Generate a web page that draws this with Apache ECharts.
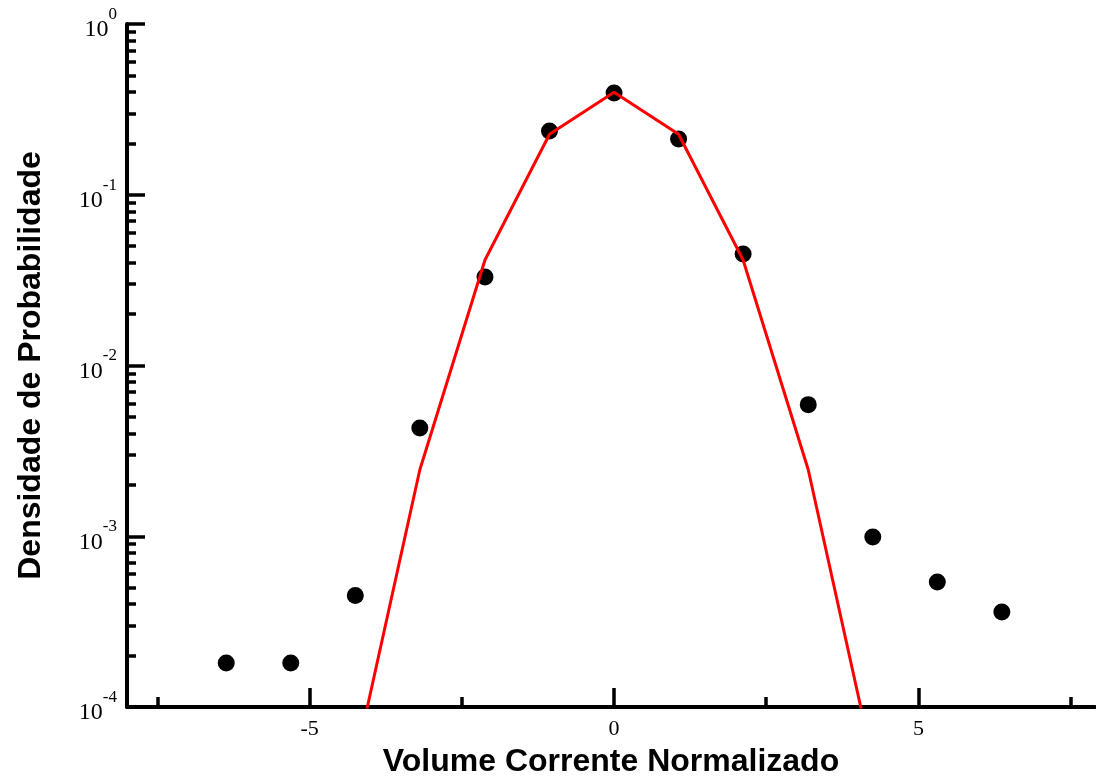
<!DOCTYPE html>
<html>
<head>
<meta charset="utf-8">
<script src="https://cdn.jsdelivr.net/npm/echarts@6/dist/echarts.min.js"></script>
<style>html,body{margin:0;background:#fff}#chart{width:1096px;height:780px}</style>
</head>
<body>
<div id="chart"></div>
<script>
// measured points (black dots)
var xValues = [-6.37, -5.31, -4.25, -3.19, -2.12, -1.06, 0, 1.06, 2.12, 3.19, 4.25, 5.31, 6.37];
var dataValues = [1.81e-4, 1.81e-4, 4.5e-4, 4.3e-3, 0.033, 0.236, 0.394, 0.212, 0.045, 5.9e-3, 9.9e-4, 5.4e-4, 3.6e-4];
// red reference curve
var curveX = [-4.25, -3.19, -2.12, -1.06, 0, 1.06, 2.12, 3.19, 4.25];
var curveValues = [4.8e-5, 2.45e-3, 0.0415, 0.226, 0.399, 0.226, 0.0415, 2.45e-3, 4.8e-5];
// axis ticks
var xMajorTicks = [-5, 0, 5];
var xMinorTicks = [-7.5, -2.5, 2.5, 7.5];
var yDecades = [-4, -3, -2, -1, 0];
var yMinorMantissas = [2, 3, 4, 5, 6, 7, 8, 9];

var yMinorTicks = [];
yDecades.slice(0, -1).forEach(function (d) {
    yMinorMantissas.forEach(function (m) { yMinorTicks.push(d + Math.log10(m)); });
});

function pairs(xs, ys) {
    return xs.map(function (x, i) { return [x, ys[i]]; });
}

var chartDom = document.getElementById('chart');
var myChart = echarts.init(chartDom);

var axisColor = '#000';
var serif = '"Liberation Serif", "Times New Roman", serif';
var sans = '"Liberation Sans", Arial, sans-serif';

var option = {
    animation: false,
    backgroundColor: '#fff',
    grid: { left: 127, top: 24, width: 968, height: 683, containLabel: false, outerBoundsMode: 'none' },
    xAxis: [
        {
            type: 'value', min: -8, max: 7.9, position: 'bottom',
            name: 'Volume Corrente Normalizado',
            nameLocation: 'middle', nameGap: 39,
            nameTextStyle: { fontFamily: sans, fontWeight: 'bold', fontSize: 32, color: '#000' },
            axisLine: { onZero: false, lineStyle: { color: axisColor, width: 4 } },
            axisTick: { inside: true, length: 19, lineStyle: { width: 3.5, color: axisColor }, customValues: xMajorTicks },
            axisLabel: { customValues: xMajorTicks, margin: 11, fontFamily: serif, fontSize: 22, color: '#000' },
            splitLine: { show: false }
        },
        {
            type: 'value', min: -8, max: 7.9, position: 'bottom',
            axisLine: { show: false, onZero: false },
            axisTick: { inside: true, length: 10, lineStyle: { width: 3.5, color: axisColor }, customValues: xMinorTicks },
            axisLabel: { show: false },
            splitLine: { show: false }
        }
    ],
    yAxis: [
        {
            type: 'log', min: 1e-4, max: 1, position: 'left',
            axisLine: { show: false, onZero: false }, axisTick: { show: false },
            axisLabel: { show: false }, splitLine: { show: false }
        },
        {
            type: 'value', min: -4, max: 0, interval: 1, position: 'left',
            name: 'Densidade de Probabilidade',
            nameLocation: 'middle', nameGap: 80,
            nameTextStyle: { fontFamily: sans, fontWeight: 'bold', fontSize: 32, color: '#000' },
            axisLine: { onZero: false, lineStyle: { color: axisColor, width: 4 } },
            axisTick: { inside: true, length: 18, lineStyle: { width: 3.5, color: axisColor } },
            axisLabel: {
                margin: 10,
                formatter: function (v) { return '{b|10}{s|' + v + '}'; },
                rich: {
                    b: { fontFamily: serif, fontSize: 24, color: '#000', padding: [12, 0, 0, 0] },
                    s: { fontFamily: serif, fontSize: 17, color: '#000', verticalAlign: 'top' }
                }
            },
            splitLine: { show: false }
        },
        {
            type: 'value', min: -4, max: 0, position: 'left',
            axisLine: { show: false, onZero: false },
            axisTick: { inside: true, length: 9, lineStyle: { width: 3.5, color: axisColor }, customValues: yMinorTicks },
            axisLabel: { show: false },
            splitLine: { show: false }
        }
    ],
    series: [
        {
            type: 'scatter', xAxisIndex: 0, yAxisIndex: 0,
            data: pairs(xValues, dataValues),
            symbolSize: 17,
            itemStyle: { color: '#000', opacity: 1 },
            z: 2
        },
        {
            type: 'line', xAxisIndex: 0, yAxisIndex: 0,
            data: pairs(curveX, curveValues),
            symbol: 'none', clip: true,
            lineStyle: { color: '#ff0000', width: 3 },
            z: 3
        }
    ]
};

myChart.setOption(option);
</script>
</body>
</html>
